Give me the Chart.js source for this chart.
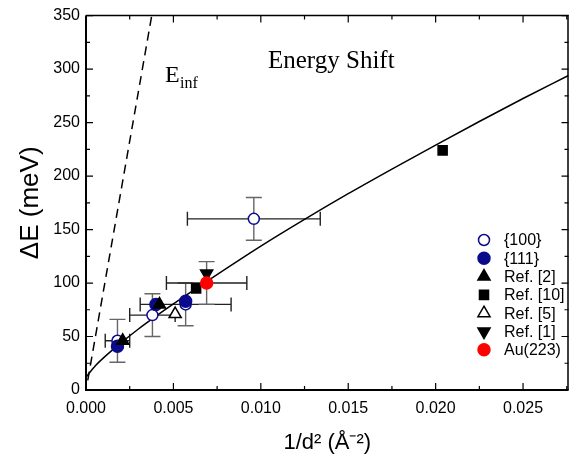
<!DOCTYPE html>
<html>
<head>
<meta charset="utf-8">
<script src="https://cdn.jsdelivr.net/npm/chart.js@4.4.0/dist/chart.umd.min.js"></script>
<style>
  html, body { margin: 0; padding: 0; background: #fff; }
  #wrap { width: 577px; height: 462px; }
</style>
</head>
<body>
<div id="wrap"><canvas id="chart"></canvas></div>
<script>
// ---- data ----
const fitX = [0.0000, 0.0005, 0.0010, 0.0020, 0.0030, 0.0040, 0.0050, 0.0070, 0.0100, 0.0125, 0.0150, 0.0175, 0.0200, 0.0225, 0.0250, 0.0276];
const fitY = [12, 22, 30, 44, 57, 69, 80.5, 102.5, 134.5, 159.5, 183.5, 206.5, 229, 251, 272.5, 294];
const einfX = [0.0001, 0.00376];
const einfY = [9, 350];

const s100X = [0.0018, 0.0038, 0.0057, 0.0096];
const s100Y = [46, 70, 80, 160];
const s100XErr = [0.0007, 0.0013, 0.0026, 0.0038];
const s100YErr = [20, 20, 20, 20];

const s111X = [0.0018, 0.0040, 0.0057];
const s111Y = [41, 80, 83];

const ref2X = [0.0021, 0.0042];
const ref2Y = [46, 80];
const ref10X = [0.0063, 0.0204];
const ref10Y = [95, 224];
const ref5X = [0.0051];
const ref5Y = [71];
const ref1X = [0.0069];
const ref1Y = [109];

const auX = [0.0069];
const auY = [100];
const auXErr = [0.0023];
const auYErr = [20];

const xTicksStep = 0.005;
const yTicksStep = 50;

const toPts = (xs, ys) => xs.map((x, i) => ({ x: x, y: ys[i] }));

const BLUE = "#0a0a8c";
const SANS = "'Liberation Sans', Arial, Helvetica, sans-serif";
const SERIF = "'Liberation Serif', 'Times New Roman', serif";

// ---- error bars (drawn behind the markers) ----
const errorBars = {
    id: "errorBars",
    beforeDatasetsDraw(chart) {
        const ctx = chart.ctx;
        const xs = chart.scales.x, ys = chart.scales.y;
        ctx.save();
        ctx.lineWidth = 1.4;
        chart.data.datasets.forEach(ds => {
            if (!ds.errX) return;
            ds.data.forEach((p, i) => {
                const px = xs.getPixelForValue(p.x), py = ys.getPixelForValue(p.y);
                const x0 = xs.getPixelForValue(p.x - ds.errX[i]);
                const x1 = xs.getPixelForValue(p.x + ds.errX[i]);
                const y0 = ys.getPixelForValue(p.y - ds.errY[i]);
                const y1 = ys.getPixelForValue(p.y + ds.errY[i]);
                ctx.strokeStyle = "#222";
                ctx.beginPath();
                ctx.moveTo(x0, py); ctx.lineTo(x1, py);
                ctx.moveTo(x0, py - 7); ctx.lineTo(x0, py + 7);
                ctx.moveTo(x1, py - 7); ctx.lineTo(x1, py + 7);
                ctx.stroke();
                ctx.strokeStyle = "#666";
                ctx.beginPath();
                ctx.moveTo(px, y0); ctx.lineTo(px, y1);
                ctx.moveTo(px - 8, y0); ctx.lineTo(px + 8, y0);
                ctx.moveTo(px - 8, y1); ctx.lineTo(px + 8, y1);
                ctx.stroke();
            });
        });
        ctx.restore();
    }
};

// ---- frame with inward ticks, text labels and legend ----
const decorations = {
    id: "decorations",
    afterDraw(chart) {
        const ctx = chart.ctx;
        const a = chart.chartArea;
        const xs = chart.scales.x, ys = chart.scales.y;
        ctx.save();
        ctx.strokeStyle = "#000";
        ctx.lineWidth = 1.5;
        ctx.beginPath();
        ctx.moveTo(a.left, a.top); ctx.lineTo(a.right - 0.5, a.top); ctx.lineTo(a.right - 0.5, a.bottom);
        ctx.stroke();
        ctx.lineWidth = 2;
        ctx.beginPath();
        ctx.moveTo(a.left, a.top); ctx.lineTo(a.left, a.bottom); ctx.lineTo(a.right, a.bottom);
        ctx.stroke();

        ctx.lineWidth = 1.2;
        ctx.beginPath();
        for (let v = xs.min; v <= xs.max + 1e-9; v += xTicksStep / 2) {
            const px = xs.getPixelForValue(v);
            const major = Math.abs(v / xTicksStep - Math.round(v / xTicksStep)) < 1e-6;
            const len = major ? 7 : 4;
            ctx.moveTo(px, a.bottom); ctx.lineTo(px, a.bottom - len);
            ctx.moveTo(px, a.top); ctx.lineTo(px, a.top + len);
        }
        for (let v = ys.min; v <= ys.max + 1e-9; v += yTicksStep / 2) {
            const py = ys.getPixelForValue(v);
            const major = v % yTicksStep === 0;
            const len = major ? 7 : 4;
            ctx.moveTo(a.left, py); ctx.lineTo(a.left + len, py);
            ctx.moveTo(a.right, py); ctx.lineTo(a.right - len, py);
        }
        ctx.stroke();

        // text labels
        ctx.fillStyle = "#000";
        ctx.textBaseline = "alphabetic";
        ctx.font = "25px " + SERIF;
        ctx.fillText("Energy Shift", 268, 68);
        ctx.font = "24px " + SERIF;
        ctx.fillText("E", 165, 82);
        ctx.font = "16px " + SERIF;
        ctx.fillText("inf", 180, 88);

        // legend
        let ly = 240;
        ctx.font = "16px " + SANS;
        ctx.textBaseline = "middle";
        chart.data.datasets.forEach(ds => {
            if (!ds.inLegend) return;
            ctx.fillStyle = ds.backgroundColor;
            ctx.strokeStyle = ds.borderColor;
            ctx.lineWidth = ds.borderWidth || 1;
            Chart.helpers.drawPoint(ctx, {
                pointStyle: ds.pointStyle,
                radius: ds.pointRadius,
                rotation: ds.rotation || 0,
                borderWidth: ds.borderWidth || 1
            }, 484, ly);
            ctx.fillStyle = "#000";
            ctx.fillText(ds.label, 504, ly + 1);
            ly += 18.3;
        });
        ctx.restore();
    }
};

const marker = (label, xs, ys, style, fill, stroke, radius, order, extra) => Object.assign({
    type: "scatter",
    label: label,
    data: toPts(xs, ys),
    pointStyle: style,
    backgroundColor: fill,
    borderColor: stroke,
    borderWidth: 1.5,
    pointRadius: radius,
    pointHoverRadius: radius,
    order: order,
    inLegend: true
}, extra || {});

new Chart(document.getElementById("chart"), {
    data: {
        datasets: [
            marker("{100}", s100X, s100Y, "circle", "#fff", BLUE, 5.5, 7, { errX: s100XErr, errY: s100YErr }),
            marker("{111}", s111X, s111Y, "circle", BLUE, BLUE, 6, 6),
            marker("Ref. [2]", ref2X, ref2Y, "triangle", "#000", "#000", 7, 5),
            marker("Ref. [10]", ref10X, ref10Y, "rect", "#000", "#000", 6.4, 4),
            marker("Ref. [5]", ref5X, ref5Y, "triangle", "#fff", "#000", 7, 3),
            marker("Ref. [1]", ref1X, ref1Y, "triangle", "#000", "#000", 7, 2, { rotation: 180 }),
            marker("Au(223)", auX, auY, "circle", "#ff0000", "#ff0000", 6, 1, { errX: auXErr, errY: auYErr }),
            {
                type: "line",
                label: "fit",
                data: toPts(fitX, fitY),
                borderColor: "#000",
                borderWidth: 1.5,
                pointRadius: 0,
                fill: false,
                cubicInterpolationMode: "monotone",
                order: 8
            },
            {
                type: "line",
                label: "Einf",
                data: toPts(einfX, einfY),
                borderColor: "#000",
                borderWidth: 1.5,
                borderDash: [9, 6],
                pointRadius: 0,
                fill: false,
                order: 9
            }
        ]
    },
    options: {
        responsive: true,
        maintainAspectRatio: false,
        animation: false,
        layout: { padding: { top: 14, right: 0, left: 0, bottom: 0 } },
        plugins: {
            legend: { display: false },
            tooltip: { enabled: false }
        },
        scales: {
            x: {
                type: "linear",
                min: 0,
                max: 0.0276,
                afterFit: s => { s.height = 72; },
                grid: { display: false, drawTicks: false },
                border: { display: false },
                ticks: {
                    stepSize: xTicksStep,
                    includeBounds: false,
                    padding: 9,
                    color: "#000",
                    font: { family: SANS, size: 16 },
                    maxRotation: 0,
                    callback: v => v.toFixed(3)
                },
                title: {
                    display: true,
                    text: "1/d² (Å⁻²)",
                    color: "#000",
                    font: { family: SANS, size: 22 },
                    padding: { top: 0, bottom: 6 }
                }
            },
            y: {
                type: "linear",
                min: 0,
                max: 350,
                afterFit: s => { s.width = 86; },
                grid: { display: false, drawTicks: false },
                border: { display: false },
                ticks: {
                    stepSize: yTicksStep,
                    padding: 6,
                    color: "#000",
                    font: { family: SANS, size: 16 }
                },
                title: {
                    display: true,
                    text: "ΔE (meV)",
                    color: "#000",
                    font: { family: SANS, size: 26 },
                    padding: { top: 15, bottom: 0 }
                }
            }
        }
    },
    plugins: [errorBars, decorations]
});
</script>
</body>
</html>
